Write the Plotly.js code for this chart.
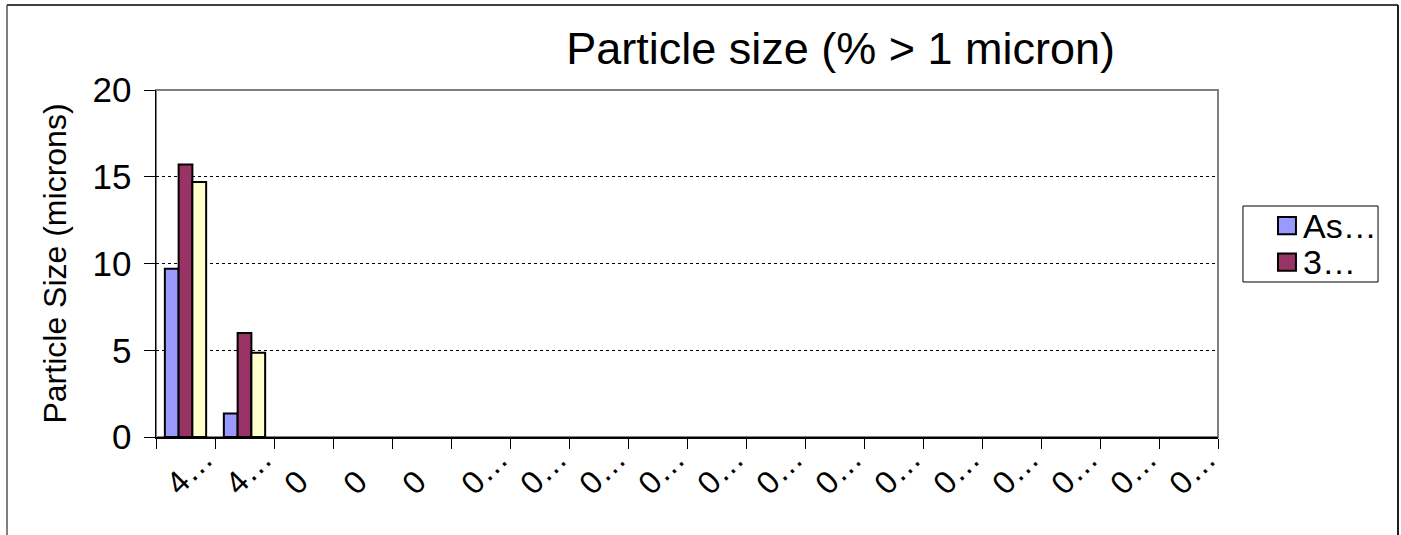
<!DOCTYPE html>
<html>
<head>
<meta charset="utf-8">
<script src="https://cdn.plot.ly/plotly-3.0.1.min.js"></script>
<style>
  html, body { margin: 0; padding: 0; background: #fff; }
  #chart { width: 1401px; height: 535px; }
</style>
</head>
<body>
<div id="chart"></div>
<script>
// Category labels along the x axis (shown truncated)
const categories = ["4…", "4…", "0", "0", "0", "0…", "0…", "0…", "0…", "0…", "0…", "0…", "0…", "0…", "0…", "0…", "0…", "0…"];

// Series names (only the first two appear in the key)
const seriesNames = ["As…", "3…", ""];
const seriesColors = ["#9999FF", "#993366", "#FFFFCC"];

// Particle size values (microns) per category
const seriesA = [9.7, 1.35, 0, 0, 0, 0, 0, 0, 0, 0, 0, 0, 0, 0, 0, 0, 0, 0];
const seriesB = [15.7, 6.0, 0, 0, 0, 0, 0, 0, 0, 0, 0, 0, 0, 0, 0, 0, 0, 0];
const seriesC = [14.7, 4.85, 0, 0, 0, 0, 0, 0, 0, 0, 0, 0, 0, 0, 0, 0, 0, 0];

const yTicks = [0, 5, 10, 15, 20];

const FONT = "Liberation Sans, Arial, sans-serif";
const positions = categories.map((_, i) => i);
// Slanted labels all start at the same spot under their category:
// short labels get a trailing em space as wide as the ellipsis.
const tickLabels = categories.map(c => (c.endsWith("…") ? c : c + "\u2003"));

function barTrace(values, name, color) {
  return {
    type: "bar",
    x: positions,
    y: values,
    name: name,
    showlegend: false,
    // empty bars get no outline so the baseline stays thin
    marker: { color: color, line: { color: "#000000", width: values.map(v => (v > 0 ? 2 : 0)) } },
    hoverinfo: "y"
  };
}

const data = [
  barTrace(seriesA, seriesNames[0], seriesColors[0]),
  barTrace(seriesB, seriesNames[1], seriesColors[1]),
  barTrace(seriesC, seriesNames[2], seriesColors[2])
];

// Key box to the right of the plot: frame, colour swatches and names
const keyEntries = 2;
const keyBox = { x0: 1.0235, x1: 1.1507, y0: 0.4467, y1: 0.6657 };
const keyRowY = [0.609, 0.504];      // row centres (paper units)
const swatch = { x0: 1.0565, x1: 1.0734, half: 0.025 };

const keyShapes = [
  { type: "rect", xref: "paper", yref: "paper",
    x0: keyBox.x0, x1: keyBox.x1, y0: keyBox.y0, y1: keyBox.y1,
    line: { color: "#000000", width: 1 }, fillcolor: "#ffffff" }
];
const keyLabels = [];
for (let i = 0; i < keyEntries; i++) {
  keyShapes.push({
    type: "rect", xref: "paper", yref: "paper",
    x0: swatch.x0, x1: swatch.x1, y0: keyRowY[i] - swatch.half, y1: keyRowY[i] + swatch.half,
    line: { color: "#000000", width: 2 }, fillcolor: seriesColors[i]
  });
  keyLabels.push({
    xref: "paper", yref: "paper", x: 1.078, y: keyRowY[i],
    xanchor: "left", yanchor: "middle", showarrow: false,
    text: seriesNames[i],
    font: { family: FONT, size: 34, color: "#000000" }
  });
}

const layout = {
  width: 1401,
  height: 535,
  paper_bgcolor: "#ffffff",
  plot_bgcolor: "#ffffff",
  margin: { l: 156, r: 183, t: 90, b: 98 },
  font: { family: FONT, color: "#000000" },
  barmode: "group",
  bargap: 0.3,
  bargroupgap: 0,
  showlegend: false,
  title: {
    text: "Particle size (% > 1 micron)",
    font: { family: FONT, size: 45, color: "#000000" },
    x: 0.6, xref: "container", xanchor: "center",
    y: 0.91, yref: "container", yanchor: "middle"
  },
  xaxis: {
    type: "linear",
    range: [-0.5, categories.length - 0.5],
    tickmode: "array",
    tickvals: positions,
    ticktext: tickLabels,
    ticks: "",
    tickangle: -45,
    tickfont: { family: FONT, size: 32, color: "#000000" },
    ticklabelshift: 18,
    ticklabelstandoff: -11,
    showgrid: false,
    zeroline: false,
    showline: true,
    linecolor: "#000000",
    linewidth: 1.5,
    minor: {
      tickmode: "linear",
      tick0: -0.5,
      dtick: 1,
      ticks: "outside",
      ticklen: 10,
      tickwidth: 1,
      tickcolor: "#000000",
      showgrid: false
    }
  },
  yaxis: {
    range: [0, 20],
    tickmode: "array",
    tickvals: yTicks,
    ticktext: yTicks.map(String),
    ticks: "outside",
    ticklen: 11,
    tickwidth: 1,
    tickcolor: "#000000",
    tickfont: { family: FONT, size: 35, color: "#000000" },
    ticklabelstandoff: 5,
    showgrid: true,
    gridcolor: "#000000",
    gridwidth: 1,
    griddash: "dot",
    zeroline: false,
    showline: true,
    linecolor: "#000000",
    linewidth: 1.5,
    title: {
      text: "Particle Size (microns)",
      font: { family: FONT, size: 32, color: "#000000" },
      standoff: 16
    }
  },
  annotations: keyLabels,
  shapes: [
    // plot area frame (top and right edges in grey)
    { type: "rect", xref: "paper", yref: "paper", x0: 0, x1: 1, y0: 0, y1: 1,
      line: { color: "#808080", width: 2 }, layer: "between" },
    // chart area frame
    { type: "line", xref: "paper", yref: "paper", x0: -0.1403, x1: -0.1403, y0: -0.35, y1: 1.245,
      line: { color: "#808080", width: 2 } },
    { type: "line", xref: "paper", yref: "paper", x0: -0.1403, x1: 1.1695, y0: 1.245, y1: 1.245,
      line: { color: "#404040", width: 2 } },
    { type: "line", xref: "paper", yref: "paper", x0: 1.1695, x1: 1.1695, y0: -0.35, y1: 1.245,
      line: { color: "#202020", width: 2 } }
  ].concat(keyShapes)
};

Plotly.newPlot("chart", data, layout, { displayModeBar: false, staticPlot: true });
</script>
</body>
</html>
